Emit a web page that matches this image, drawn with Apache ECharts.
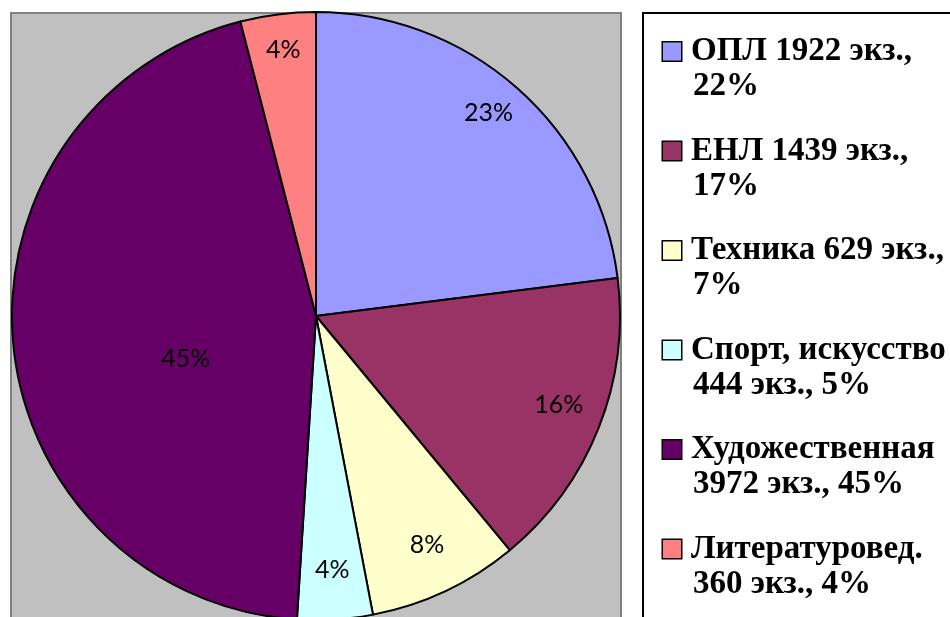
<!DOCTYPE html>
<html>
<head>
<meta charset="utf-8">
<script src="https://cdn.jsdelivr.net/npm/echarts@6/dist/echarts.min.js"></script>
<style>
html,body{margin:0;padding:0;background:#fff;}
#chart{width:950px;height:617px;}
</style>
</head>
<body>
<div id="chart"></div>
<script>
// Categories (slice names)
const categories = ['ОПЛ', 'ЕНЛ', 'Техника', 'Спорт, искусство', 'Художественная', 'Литературовед.'];
// Slice values as shown in the pie (percent)
const pieValues = [23, 16, 8, 4, 45, 4];
// Legend texts (two lines each, as in the reference)
const legendLine1 = ['ОПЛ 1922 экз.,', 'ЕНЛ 1439 экз.,', 'Техника 629 экз.,', 'Спорт, искусство', 'Художественная', 'Литературовед.'];
const legendLine2 = ['22%', '17%', '7%', '444 экз., 5%', '3972 экз., 45%', '360 экз., 4%'];
const colors = ['#9999FF', '#993366', '#FFFFCC', '#CCFFFF', '#660066', '#FF8080'];

const chart = echarts.init(document.getElementById('chart'), null, {renderer: 'canvas'});

const rich = {
  t: {fontFamily: 'Liberation Serif', fontWeight: 'bold', fontSize: 33, lineHeight: 35, color: '#000'},
  g: {width: 10, height: 10},
  sp: {width: 30, height: 10}
};
colors.forEach((c, i) => {
  rich['m' + i] = {width: 18, height: 18, backgroundColor: c, borderColor: '#000', borderWidth: 1.5};
});

const mainData = categories.map((n, i) => ({name: n, value: pieValues[i], itemStyle: {color: colors[i]}}));
const labelData = categories.map((n, i) => ({name: n, value: pieValues[i], label: {show: i !== 4}}));

chart.setOption({
  backgroundColor: '#ffffff',
  animation: false,
  graphic: [
    {type: 'rect', shape: {x: 11, y: 13, width: 610, height: 640}, style: {fill: '#C0C0C0', stroke: '#808080', lineWidth: 2}, z: -10, silent: true},
    {type: 'rect', shape: {x: 643, y: 13, width: 330, height: 640}, style: {fill: '#FFFFFF', stroke: '#000000', lineWidth: 2}, z: -10, silent: true}
  ],
  legend: {
    orient: 'vertical',
    left: 652,
    top: 29,
    itemWidth: 0,
    itemHeight: 0,
    itemGap: 29.5,
    icon: 'rect',
    selectedMode: false,
    data: categories,
    formatter: function (name) {
      const i = categories.indexOf(name);
      return '{m' + i + '|}{g|}{t|' + legendLine1[i] + '}\n{sp|}{t|' + legendLine2[i] + '}';
    },
    textStyle: {fontFamily: 'Liberation Serif', fontWeight: 'bold', fontSize: 33, lineHeight: 35, color: '#000', rich: rich}
  },
  series: [
    {
      type: 'pie',
      center: [316, 316],
      radius: [0, 304],
      startAngle: 90,
      clockwise: true,
      percentPrecision: 0,
      silent: true,
      itemStyle: {borderColor: '#000', borderWidth: 2},
      label: {show: false, position: 'inner', formatter: '{d}%', fontFamily: 'Lato', fontSize: 25, color: '#000'},
      labelLine: {show: false},
      emphasis: {disabled: true},
      data: mainData.map((d, i) => i === 4 ? Object.assign({}, d, {label: {show: true}}) : d),
      labelLayout: function (p) {
        if (p.dataIndex === 4) return {dx: 24, dy: 28};
      }
    },
    {
      type: 'pie',
      center: [316, 316],
      radius: [226, 290],
      startAngle: 90,
      clockwise: true,
      percentPrecision: 0,
      silent: true,
      itemStyle: {color: 'rgba(0,0,0,0)', borderWidth: 0},
      label: {show: true, position: 'inner', formatter: '{d}%', fontFamily: 'Lato', fontSize: 25, color: '#000'},
      labelLine: {show: false},
      emphasis: {disabled: true},
      data: labelData,
      labelLayout: function () {
        return {dy: -7};
      }
    }
  ]
});
</script>
</body>
</html>
